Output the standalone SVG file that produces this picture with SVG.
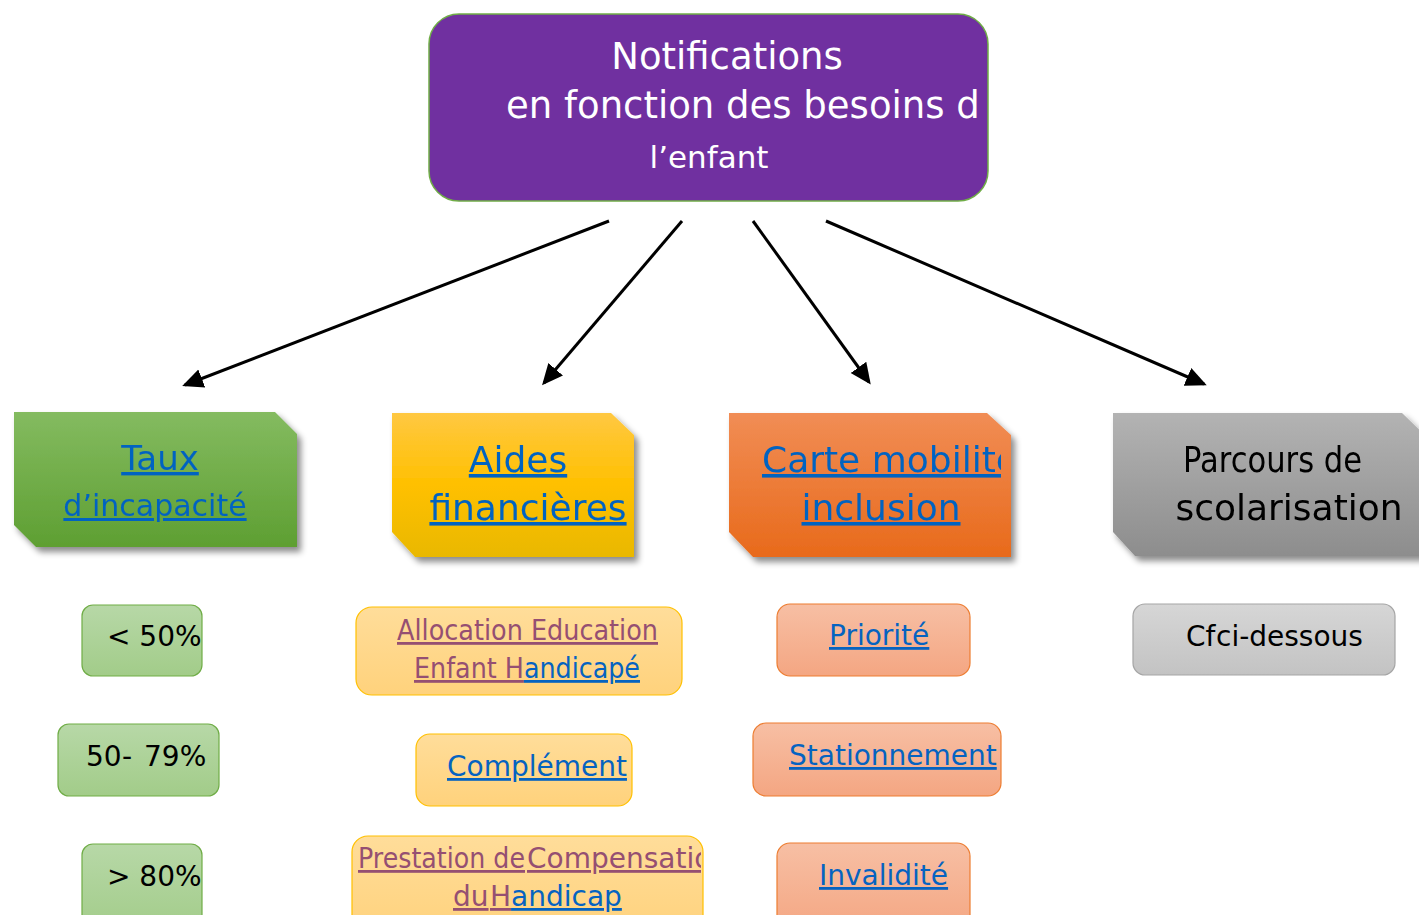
<svg xmlns="http://www.w3.org/2000/svg" width="1419" height="915" viewBox="0 0 1419 915">
<defs>
<style>
text{font-family:"DejaVu Sans","Liberation Sans",sans-serif}
.big{font-size:36px}
.sm{font-size:28px}
.link{fill:#0563C1;text-decoration:underline}
.vis{fill:#954F72;text-decoration:underline}
.blk{fill:#000}
.conn{stroke:#000;stroke-width:3;fill:none;marker-end:url(#ah)}
</style>
<marker id="ah" markerWidth="8" markerHeight="8" refX="6" refY="4" orient="auto" markerUnits="strokeWidth"><path d="M0,0.8 L7,4 L0,7.2 z" fill="#000"/></marker>
<filter id="sh" x="-10%" y="-10%" width="125%" height="130%"><feDropShadow dx="4" dy="5" stdDeviation="3" flood-color="#000" flood-opacity="0.45"/></filter>
<linearGradient id="gG" x1="0" y1="0" x2="0" y2="1"><stop offset="0" stop-color="#84BB60"/><stop offset="1" stop-color="#5E9F32"/></linearGradient>
<linearGradient id="gY" x1="0" y1="0" x2="0" y2="1"><stop offset="0" stop-color="#FFC842"/><stop offset="0.5" stop-color="#FFC000"/><stop offset="1" stop-color="#E9B800"/></linearGradient>
<linearGradient id="gO" x1="0" y1="0" x2="0" y2="1"><stop offset="0" stop-color="#F18D55"/><stop offset="1" stop-color="#E86A1B"/></linearGradient>
<linearGradient id="gK" x1="0" y1="0" x2="0" y2="1"><stop offset="0" stop-color="#B3B3B3"/><stop offset="1" stop-color="#8D8D8D"/></linearGradient>
<linearGradient id="lG" x1="0" y1="0" x2="0" y2="1"><stop offset="0" stop-color="#B7D8A7"/><stop offset="1" stop-color="#A2CC89"/></linearGradient>
<linearGradient id="lY" x1="0" y1="0" x2="0" y2="1"><stop offset="0" stop-color="#FFDD9A"/><stop offset="1" stop-color="#FFD27C"/></linearGradient>
<linearGradient id="lO" x1="0" y1="0" x2="0" y2="1"><stop offset="0" stop-color="#F7BFA4"/><stop offset="1" stop-color="#F4A682"/></linearGradient>
<linearGradient id="lK" x1="0" y1="0" x2="0" y2="1"><stop offset="0" stop-color="#D6D6D6"/><stop offset="1" stop-color="#C3C3C3"/></linearGradient>
<clipPath id="cTop"><rect x="429" y="14" width="551" height="187"/></clipPath>
<clipPath id="cOr"><rect x="729" y="413" width="272" height="144"/></clipPath>
<clipPath id="cPr"><rect x="352" y="836" width="349" height="80"/></clipPath>
</defs>
<rect width="1419" height="915" fill="#fff"/>

<g id="connectors">
<line class="conn" x1="609" y1="221" x2="185" y2="385"/>
<line class="conn" x1="682" y1="221" x2="544" y2="383"/>
<line class="conn" x1="753" y1="221" x2="869" y2="382"/>
<line class="conn" x1="826" y1="221" x2="1204" y2="384"/>
</g>

<g id="root">
<rect x="429" y="14" width="559" height="187" rx="30" fill="#7030A0" stroke="#70AD47" stroke-width="1.5"/>
<g clip-path="url(#cTop)" fill="#fff">
<text x="727" y="69" text-anchor="middle" font-size="37">Notifications</text>
<text x="506" y="118" font-size="37">en fonction des besoins de</text>
<text x="709" y="168" text-anchor="middle" font-size="31">l’enfant</text>
</g>
</g>

<g id="cat-taux" filter="url(#sh)">
<path d="M14,412 L275,412 L297,434 L297,547 L36,547 L14,525 Z" fill="url(#gG)"/>
<text class="link" x="160" y="470" text-anchor="middle" font-size="34">Taux</text>
<text class="link" x="155" y="516" text-anchor="middle" font-size="30">d’incapacité</text>
</g>

<g id="cat-aides" filter="url(#sh)">
<path d="M392,413 L611,413 L634,435 L634,557 L415,557 L392,532 Z" fill="url(#gY)"/>
<text class="link big" x="518" y="472" text-anchor="middle">Aides</text>
<text class="link big" x="528" y="520" text-anchor="middle">financières</text>
</g>

<g id="cat-carte" filter="url(#sh)">
<path d="M729,413 L987,413 L1011,435 L1011,557 L753,557 L729,532 Z" fill="url(#gO)"/>
<g clip-path="url(#cOr)">
<text class="link big" x="762" y="472">Carte mobilité</text>
</g>
<text class="link big" x="881" y="520" text-anchor="middle">inclusion</text>
</g>

<g id="cat-parcours" filter="url(#sh)">
<path d="M1113,413 L1402,413 L1430,440 L1430,556 L1135,556 L1113,532 Z" fill="url(#gK)"/>
<text class="blk big" x="1183" y="472" textLength="179" lengthAdjust="spacingAndGlyphs">Parcours de</text>
<text class="blk big" x="1289" y="520" text-anchor="middle">scolarisation</text>
</g>

<g id="taux-1">
<rect x="82" y="605" width="120" height="71" rx="11" fill="url(#lG)" stroke="#70AD47" stroke-width="1.2"/>
<text class="blk sm" x="107" y="646">&lt; 50%</text>
</g>
<g id="taux-2">
<rect x="58" y="724" width="161" height="72" rx="11" fill="url(#lG)" stroke="#70AD47" stroke-width="1.2"/>
<text class="blk sm" y="766"><tspan x="86">50</tspan><tspan x="122">-</tspan><tspan x="144">79%</tspan></text>
</g>
<g id="taux-3">
<rect x="82" y="844" width="120" height="90" rx="11" fill="url(#lG)" stroke="#70AD47" stroke-width="1.2"/>
<text class="blk sm" x="107" y="886">&gt; 80%</text>
</g>

<g id="aides-1">
<rect x="356" y="607" width="326" height="88" rx="16" fill="url(#lY)" stroke="#FFC000" stroke-width="1.2"/>
<text class="sm vis" x="397" y="640" textLength="261" lengthAdjust="spacingAndGlyphs">Allocation Education</text>
<text class="sm" x="414" y="678" textLength="226" lengthAdjust="spacingAndGlyphs"><tspan class="vis">Enfant H</tspan><tspan class="link">andicapé</tspan></text>
</g>
<g id="aides-2">
<rect x="416" y="734" width="216" height="72" rx="14" fill="url(#lY)" stroke="#FFC000" stroke-width="1.2"/>
<text class="link sm" x="447" y="776">Complément</text>
</g>
<g id="aides-3">
<rect x="352" y="836" width="351" height="100" rx="16" fill="url(#lY)" stroke="#FFC000" stroke-width="1.2"/>
<g clip-path="url(#cPr)">
<text class="sm" y="868"><tspan class="vis" x="358" textLength="167" lengthAdjust="spacingAndGlyphs">Prestation de</tspan><tspan class="vis" x="527">Compensation</tspan></text>
</g>
<text class="sm" y="906"><tspan class="vis" x="453">du</tspan><tspan class="vis" x="490">H</tspan><tspan class="link">andicap</tspan></text>
</g>

<g id="carte-1">
<rect x="777" y="604" width="193" height="72" rx="13" fill="url(#lO)" stroke="#ED7D31" stroke-width="1.2"/>
<text class="link sm" x="829" y="645">Priorité</text>
</g>
<g id="carte-2">
<rect x="753" y="723" width="248" height="73" rx="13" fill="url(#lO)" stroke="#ED7D31" stroke-width="1.2"/>
<text class="link sm" x="789" y="765">Stationnement</text>
</g>
<g id="carte-3">
<rect x="777" y="843" width="193" height="90" rx="13" fill="url(#lO)" stroke="#ED7D31" stroke-width="1.2"/>
<text class="link sm" x="819" y="885">Invalidité</text>
</g>

<g id="parcours-1">
<rect x="1133" y="604" width="262" height="71" rx="12" fill="url(#lK)" stroke="#A5A5A5" stroke-width="1.2"/>
<text class="blk sm" y="646"><tspan x="1186">Cf</tspan><tspan x="1216">ci-dessous</tspan></text>
</g>
</svg>
